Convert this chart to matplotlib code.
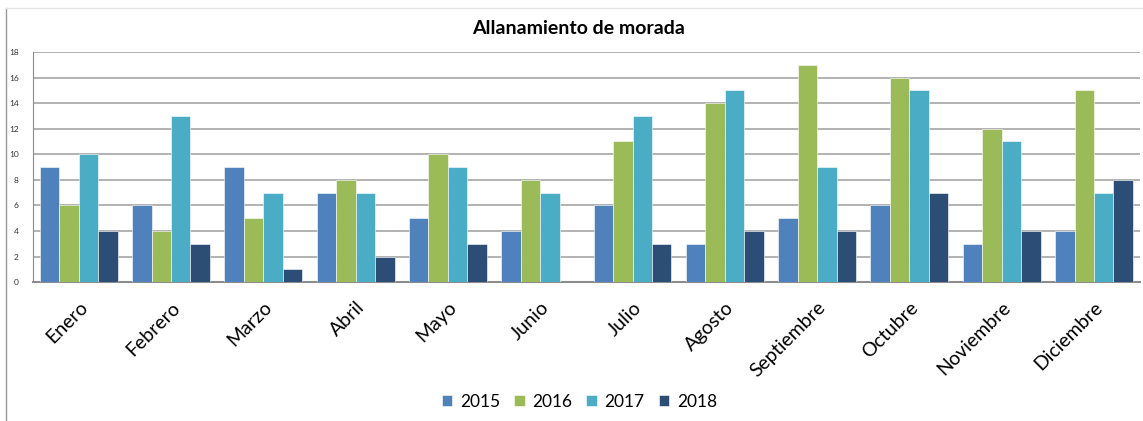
import numpy as np
import matplotlib
matplotlib.use("Agg")
from matplotlib import pyplot as plt
from matplotlib.lines import Line2D

meses = ['Enero', 'Febrero', 'Marzo', 'Abril', 'Mayo', 'Junio', 'Julio',
         'Agosto', 'Septiembre', 'Octubre', 'Noviembre', 'Diciembre']
v2015 = [9, 6, 9, 7, 5, 4, 6, 3, 5, 6, 3, 4]
v2016 = [6, 4, 5, 8, 10, 8, 11, 14, 17, 16, 12, 15]
v2017 = [10, 13, 7, 7, 9, 7, 13, 15, 9, 15, 11, 7]
v2018 = [4, 3, 1, 2, 3, 0, 3, 4, 4, 7, 4, 8]

series = [('2015', v2015, '#4f81bd'), ('2016', v2016, '#9bbb59'),
          ('2017', v2017, '#4bacc6'), ('2018', v2018, '#2c4d75')]

plt.rcParams['font.family'] = ['Lato', 'DejaVu Sans']

fig = plt.figure(figsize=(11.43, 4.21), dpi=100)
ax = fig.add_axes([0.0285, 0.330, 0.969, 0.5465])

x = np.arange(len(meses))
w = 0.211
for i, (nombre, vals, color) in enumerate(series):
    ax.bar(x + (i - 1.5) * w, vals, w, color=color, label=nombre,
           edgecolor='white', linewidth=0.4, zorder=3)

ax.set_xlim(-0.5, len(meses) - 0.5)
ax.set_ylim(0, 18)
ax.set_yticks(range(0, 19, 2))
ax.tick_params(axis='y', labelsize=6, length=0, pad=10, colors='#333333')
ax.set_xticks(x)
ax.set_xticklabels(meses, rotation=45, ha='right', rotation_mode='anchor',
                   fontsize=14)
ax.tick_params(axis='x', length=0, pad=12)
ax.grid(axis='y', color='#a6a6a6', linewidth=1.2, zorder=0)
for s in ['top', 'right']:
    ax.spines[s].set_visible(False)
ax.spines['left'].set_color('#8c8c8c')
ax.spines['bottom'].set_color('#8c8c8c')
ax.spines['bottom'].set_linewidth(1.5)

fig.text(0.506, 0.933, 'Allanamiento de morada', ha='center', va='center',
         fontsize=14, fontweight='bold')

fig.legend(loc='center', bbox_to_anchor=(0.507, 0.045), ncol=4, frameon=False,
           fontsize=12.5, handlelength=0.6, handleheight=0.6,
           handletextpad=0.45, columnspacing=0.8)

# marco exterior del gráfico
fig.add_artist(Line2D([0.0052, 0.0052], [0, 0.981], color='#999999', lw=1))
fig.add_artist(Line2D([0.0052, 1], [0.981, 0.981], color='#e6e6e6', lw=1))

fig.savefig('out.png', dpi=100)
